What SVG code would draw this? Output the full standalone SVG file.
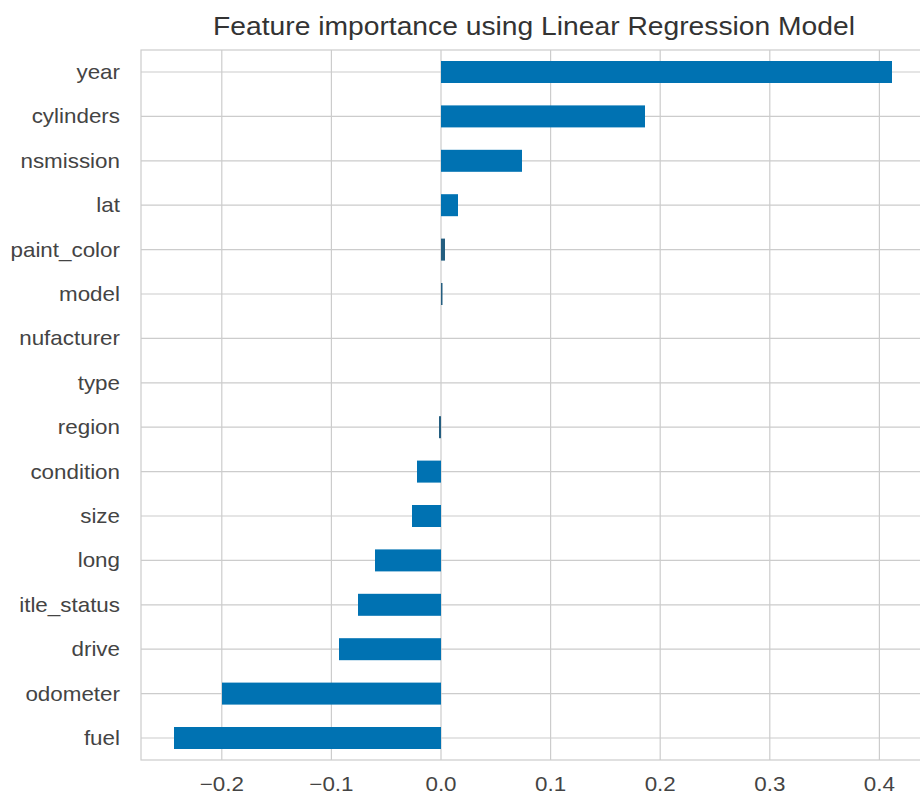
<svg xmlns="http://www.w3.org/2000/svg" width="920" height="794" viewBox="0 0 920 794">
<style>
.grid{stroke:#cccccc;stroke-width:1.2;fill:none}
.bar{fill:#0072b2}
.tiny{fill:#245e80}
.ylab{font-family:"Liberation Sans",Arial,sans-serif;font-size:20px;fill:#444444;text-anchor:end}
.xlab{font-family:"Liberation Sans",Arial,sans-serif;font-size:20px;fill:#444444;text-anchor:middle}
.title{font-family:"Liberation Sans",Arial,sans-serif;font-size:25px;fill:#333333;text-anchor:middle}
</style>
<rect x="0" y="0" width="920" height="794" fill="#ffffff"/>
<text class="title" transform="translate(534,35) scale(1.13,1)">Feature importance using Linear Regression Model</text>
<g id="grid">
<rect class="grid" x="141" y="50" width="786" height="710"/>
<path class="grid" d="M221.8 50V760M331.4 50V760M441 50V760M550.6 50V760M660.2 50V760M769.8 50V760M879.4 50V760"/>
<path class="grid" d="M141 72H927M141 116.4H927M141 160.8H927M141 205.2H927M141 249.6H927M141 294H927M141 338.4H927M141 382.8H927M141 427.2H927M141 471.6H927M141 516H927M141 560.4H927M141 604.8H927M141 649.2H927M141 693.6H927M141 738H927"/>
</g>
<g id="bars">
<rect id="bar-year" class="bar" x="441" y="61" width="451" height="22"/>
<rect id="bar-cylinders" class="bar" x="441" y="105.4" width="204" height="22"/>
<rect id="bar-transmission" class="bar" x="441" y="149.8" width="81" height="22"/>
<rect id="bar-lat" class="bar" x="441" y="194.2" width="17" height="22"/>
<rect id="bar-paint_color" class="tiny" x="441" y="238.6" width="4" height="22"/>
<rect id="bar-model" class="tiny" x="441" y="283" width="1.5" height="22"/>
<rect id="bar-region" class="tiny" x="439" y="416.2" width="2" height="22"/>
<rect id="bar-condition" class="bar" x="417" y="460.6" width="24" height="22"/>
<rect id="bar-size" class="bar" x="412" y="505" width="29" height="22"/>
<rect id="bar-long" class="bar" x="375" y="549.4" width="66" height="22"/>
<rect id="bar-title_status" class="bar" x="358" y="593.8" width="83" height="22"/>
<rect id="bar-drive" class="bar" x="339" y="638.2" width="102" height="22"/>
<rect id="bar-odometer" class="bar" x="222" y="682.6" width="219" height="22"/>
<rect id="bar-fuel" class="bar" x="174" y="727" width="267" height="22"/>
</g>
<g id="ylabels">
<text class="ylab" transform="translate(120,79) scale(1.12,1)">year</text>
<text class="ylab" transform="translate(120,123.4) scale(1.12,1)">cylinders</text>
<text class="ylab" transform="translate(120,167.8) scale(1.12,1)">nsmission</text>
<text class="ylab" transform="translate(120,212.2) scale(1.12,1)">lat</text>
<text class="ylab" transform="translate(120,256.6) scale(1.12,1)">paint_color</text>
<text class="ylab" transform="translate(120,301) scale(1.12,1)">model</text>
<text class="ylab" transform="translate(120,345.4) scale(1.12,1)">nufacturer</text>
<text class="ylab" transform="translate(120,389.8) scale(1.12,1)">type</text>
<text class="ylab" transform="translate(120,434.2) scale(1.12,1)">region</text>
<text class="ylab" transform="translate(120,478.6) scale(1.12,1)">condition</text>
<text class="ylab" transform="translate(120,523) scale(1.12,1)">size</text>
<text class="ylab" transform="translate(120,567.4) scale(1.12,1)">long</text>
<text class="ylab" transform="translate(120,611.8) scale(1.12,1)">itle_status</text>
<text class="ylab" transform="translate(120,656.2) scale(1.12,1)">drive</text>
<text class="ylab" transform="translate(120,700.6) scale(1.12,1)">odometer</text>
<text class="ylab" transform="translate(120,745) scale(1.12,1)">fuel</text>
</g>
<g id="xlabels">
<text class="xlab" transform="translate(221.8,791) scale(1.12,1)">−0.2</text>
<text class="xlab" transform="translate(331.4,791) scale(1.12,1)">−0.1</text>
<text class="xlab" transform="translate(441,791) scale(1.12,1)">0.0</text>
<text class="xlab" transform="translate(550.6,791) scale(1.12,1)">0.1</text>
<text class="xlab" transform="translate(660.2,791) scale(1.12,1)">0.2</text>
<text class="xlab" transform="translate(769.8,791) scale(1.12,1)">0.3</text>
<text class="xlab" transform="translate(879.4,791) scale(1.12,1)">0.4</text>
</g>
</svg>
